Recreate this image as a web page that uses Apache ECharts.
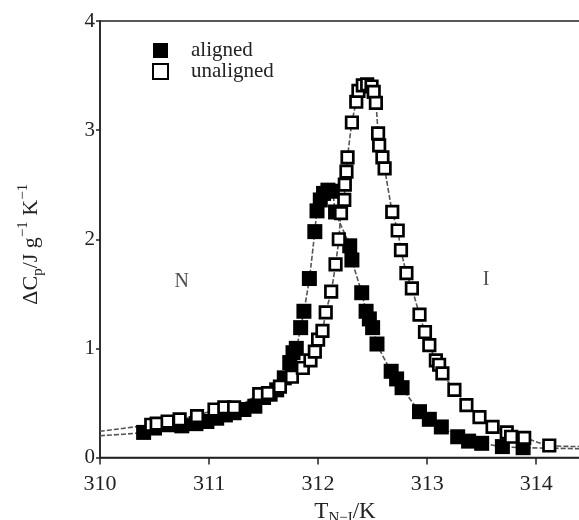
<!DOCTYPE html>
<html>
<head>
<meta charset="utf-8">
<script src="https://cdn.jsdelivr.net/npm/echarts@6/dist/echarts.min.js"></script>
<style>
html,body{margin:0;padding:0;background:#fff;}
#c{width:579px;height:520px;}
</style>
</head>
<body>
<div id="c"></div>
<script>
// ---- data ----
const alignedT = [310.40,310.50,310.62,310.75,310.88,310.98,311.07,311.15,311.23,311.32,311.42,311.50,311.56,311.62,311.69,311.74,311.77,311.80,311.84,311.87,311.92,311.97,311.99,312.02,312.05,312.09,312.13,312.16,312.29,312.31,312.40,312.44,312.47,312.50,312.54,312.67,312.72,312.77,312.93,313.02,313.13,313.28,313.38,313.50,313.69,313.88];
const alignedCp = [0.23,0.27,0.30,0.29,0.31,0.33,0.36,0.39,0.41,0.44,0.47,0.55,0.58,0.62,0.73,0.87,0.96,1.00,1.19,1.34,1.64,2.07,2.26,2.36,2.42,2.45,2.44,2.25,1.94,1.81,1.51,1.34,1.27,1.19,1.04,0.79,0.72,0.64,0.42,0.35,0.28,0.19,0.15,0.13,0.10,0.09];
const unalignedT = [310.47,310.52,310.62,310.73,310.89,311.05,311.14,311.23,311.46,311.54,311.65,311.76,311.86,311.93,311.97,312.00,312.04,312.07,312.12,312.16,312.19,312.21,312.24,312.245,312.26,312.27,312.31,312.35,312.37,312.41,312.45,312.49,312.51,312.53,312.55,312.56,312.59,312.61,312.68,312.73,312.76,312.81,312.86,312.93,312.98,313.02,313.08,313.11,313.14,313.25,313.36,313.48,313.60,313.73,313.77,313.89,314.12];
const unalignedCp = [0.30,0.31,0.33,0.35,0.38,0.44,0.46,0.46,0.58,0.59,0.65,0.74,0.82,0.89,0.97,1.08,1.16,1.33,1.52,1.77,2.00,2.24,2.36,2.50,2.62,2.75,3.07,3.26,3.36,3.41,3.42,3.40,3.35,3.25,2.97,2.86,2.75,2.65,2.25,2.08,1.90,1.69,1.55,1.31,1.15,1.03,0.89,0.85,0.77,0.62,0.48,0.37,0.28,0.23,0.19,0.18,0.11];
// fit-curve end points (at the plot edges)
const alignedFitStart = [310.00, 0.20];
const alignedFitEnd = [314.45, 0.08];
const unalignedFitStart = [310.00, 0.24];
const unalignedFitEnd = [314.45, 0.10];
const xTicks = [310, 311, 312, 313, 314];
const yTicks = [0, 1, 2, 3, 4];
const phaseLabels = [{text: 'N', t: 310.75, cp: 1.615}, {text: 'I', t: 313.54, cp: 1.625}];
const seriesNames = ['aligned', 'unaligned'];

// ---- build ----
const zip = (a, b) => a.map((v, i) => [v, b[i]]);
const alignedPts = zip(alignedT, alignedCp);
const unalignedPts = zip(unalignedT, unalignedCp);
const FONT = '"Liberation Serif","DejaVu Serif",serif';

const chart = echarts.init(document.getElementById('c'), null, {renderer: 'canvas'});
chart.setOption({
  animation: false,
  backgroundColor: '#fff',
  grid: {left: 100, right: -3, top: 21, bottom: 62.5, outerBoundsMode: 'none', containLabel: false,
    show: true, borderColor: '#222', borderWidth: 1.5, backgroundColor: 'transparent'},
  legend: {
    data: seriesNames,
    orient: 'vertical',
    left: 147, top: 35,
    itemWidth: 15, itemHeight: 15, itemGap: 0,
    textStyle: {fontFamily: FONT, fontSize: 21, color: '#222', lineHeight: 15, padding: [0, 0, 0, 18]},
    selectedMode: false
  },
  xAxis: {
    type: 'value', min: xTicks[0], max: 314.42, interval: 1,
    axisLine: {show: true, onZero: false, lineStyle: {color: '#222', width: 1.5}},
    axisTick: {show: true, length: 7, lineStyle: {color: '#222', width: 1.5}},
    axisLabel: {fontFamily: FONT, fontSize: 22, color: '#222', margin: 16, showMaxLabel: false,
      formatter: v => xTicks.includes(v) ? String(v) : ''},
    splitLine: {show: false},
    name: '{b|T}{s|N\u2212I}{b|/K}',
    nameLocation: 'middle', nameGap: 40,
    nameTextStyle: {padding: [0, 0, 0, 8], rich: {
      b: {fontFamily: FONT, fontSize: 23, color: '#222', lineHeight: 28, verticalAlign: 'middle'},
      s: {fontFamily: FONT, fontSize: 15, color: '#222', lineHeight: 14, verticalAlign: 'bottom'}
    }}
  },
  yAxis: {
    type: 'value', min: yTicks[0], max: yTicks[yTicks.length - 1], interval: 1,
    axisLine: {show: true, lineStyle: {color: '#222', width: 1.5}},
    axisTick: {show: true, length: 4, lineStyle: {color: '#222', width: 1.5}},
    axisLabel: {fontFamily: FONT, fontSize: 21, color: '#222', margin: 5},
    splitLine: {show: false},
    name: '{b|\u0394C}{s|p}{b|/J g}{u|\u22121}{b| K}{u|\u22121}',
    nameLocation: 'middle', nameRotate: 90, nameGap: 54,
    nameTextStyle: {padding: [0, 10, 0, 0], rich: {
      b: {fontFamily: FONT, fontSize: 22, color: '#222', lineHeight: 30, verticalAlign: 'middle'},
      s: {fontFamily: FONT, fontSize: 15, color: '#222', lineHeight: 14, verticalAlign: 'bottom'},
      u: {fontFamily: FONT, fontSize: 15, color: '#222', lineHeight: 14, verticalAlign: 'top'}
    }}
  },
  series: [
    {
      name: 'aligned fit', type: 'line', silent: true, symbol: 'none', smooth: 0.25, z: 1,
      data: [alignedFitStart, ...alignedPts, alignedFitEnd],
      lineStyle: {color: '#555', width: 1.6, type: [5, 2]}
    },
    {
      name: 'unaligned fit', type: 'line', silent: true, symbol: 'none', smooth: 0.25, z: 1,
      data: [unalignedFitStart, ...unalignedPts, unalignedFitEnd],
      lineStyle: {color: '#555', width: 1.6, type: [5, 2]}
    },
    {
      name: seriesNames[0], type: 'scatter', symbol: 'rect', symbolSize: 15, z: 3,
      data: alignedPts,
      itemStyle: {color: '#000', borderColor: '#000', borderWidth: 0, opacity: 1}
    },
    {
      name: seriesNames[1], type: 'scatter', symbol: 'rect', symbolSize: 11.5, z: 4,
      data: unalignedPts,
      itemStyle: {color: '#fff', borderColor: '#000', borderWidth: 2.7, opacity: 1}
    },
    {
      name: 'phase', type: 'scatter', symbolSize: 0, silent: true, z: 5,
      data: phaseLabels.map(p => ({value: [p.t, p.cp], name: p.text})),
      label: {show: true, position: 'inside', formatter: p => p.name,
        fontFamily: FONT, fontSize: 20, color: '#222'}
    }
  ]
});
</script>
</body>
</html>
